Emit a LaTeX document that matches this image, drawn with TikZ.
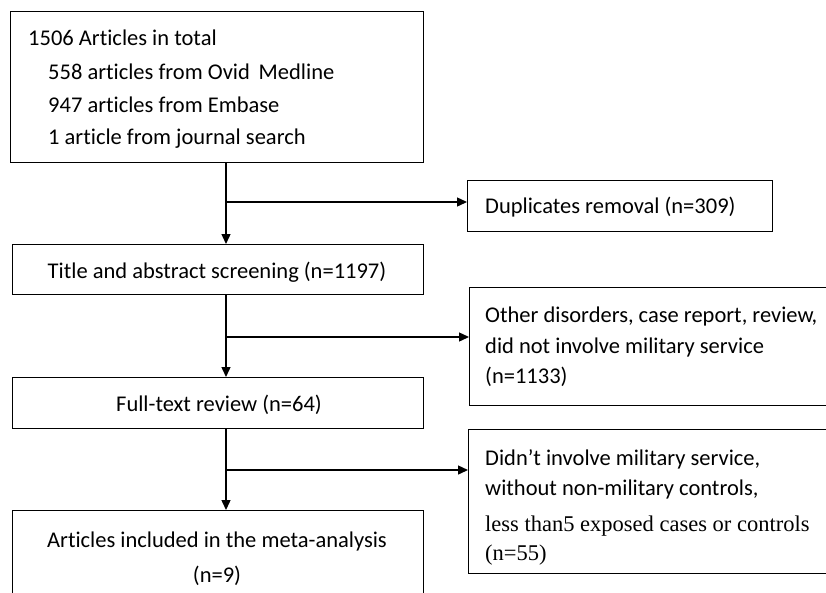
\documentclass[tikz,border=0pt]{standalone}
\usepackage{fontspec}
\setmainfont{Carlito}[Ligatures=NoCommon]
\newfontfamily\serifb{Liberation Serif}
\usetikzlibrary{arrows.meta}
\begin{document}
\begin{tikzpicture}[x=1pt,y=-1pt,
  box/.style={draw=black,line width=1.4pt,anchor=north west,inner sep=0pt,fill=white},
  txt/.style={anchor=base west,inner sep=0pt,font=\fontsize{22.5}{27}\selectfont},
  ctxt/.style={anchor=base,inner sep=0pt,font=\fontsize{22.5}{27}\selectfont},
  arr/.style={line width=1.4pt,-{Triangle[length=10pt,width=9pt]}}]
\useasboundingbox (0,0) rectangle (826,592);
\clip (0,0) rectangle (826,592);
\fill[white] (0,0) rectangle (826,592);
% boxes
\node[box,minimum width=413pt,minimum height=151pt] (b1) at (10,11) {};
\node[box,minimum width=305pt,minimum height=51pt] (dup) at (467,180) {};
\node[box,minimum width=411pt,minimum height=50pt] (tas) at (12,244) {};
\node[box,minimum width=370pt,minimum height=118pt] (oth) at (469,287) {};
\node[box,minimum width=411pt,minimum height=51pt] (ftr) at (12,377) {};
\node[box,minimum width=370pt,minimum height=144pt] (did) at (468,429) {};
\node[box,minimum width=411pt,minimum height=100pt] (inc) at (12,510) {};
% texts
\node[txt] (t1a) at (28,45) {1506 Articles in total};
\node[txt] (t1b) at (48,79) {558 articles from Ovid\, Medline};
\node[txt] (t1c) at (48,112) {947 articles from Embase};
\node[txt] (t1d) at (48,144) {1 article from journal search};
\node[txt] (tdup) at (485,213) {Duplicates removal (n=309)};
\node[ctxt] (ttas) at (217,278) {Title and abstract screening (n=1197)};
\node[txt] (to1) at (485,322) {Other disorders, case report, review,};
\node[txt] (to2) at (485,353) {did not involve military service};
\node[txt] (to3) at (485,383) {(n=1133)};
\node[ctxt] (tftr) at (219,411) {Full-text review (n=64)};
\node[txt] (td1) at (485,465) {Didn’t involve military service,};
\node[txt] (td2) at (485,495) {without non-military controls,};
\node[txt] (td3) at (485,531) {\serifb less than5 exposed cases or controls};
\node[txt] (td4) at (485,560) {\serifb (n=55)};
\node[ctxt] (ti1) at (217,547) {Articles included in the meta-analysis};
\node[ctxt] (ti2) at (217,582) {(n=9)};
% trunk and junctions
\coordinate (tr) at (226,0);
\coordinate (j1) at (226,202);
\coordinate (j2) at (226,337);
\coordinate (j3) at (226,470);
\draw[arr] (b1.south -| tr) -- (tas.north -| tr);
\draw[arr] (tas.south -| tr) -- (ftr.north -| tr);
\draw[arr] (ftr.south -| tr) -- (inc.north -| tr);
\draw[arr] (j1) -- (j1 -| dup.west);
\draw[arr] (j2) -- (j2 -| oth.west);
\draw[arr] (j3) -- (j3 -| did.west);
\end{tikzpicture}
\end{document}
